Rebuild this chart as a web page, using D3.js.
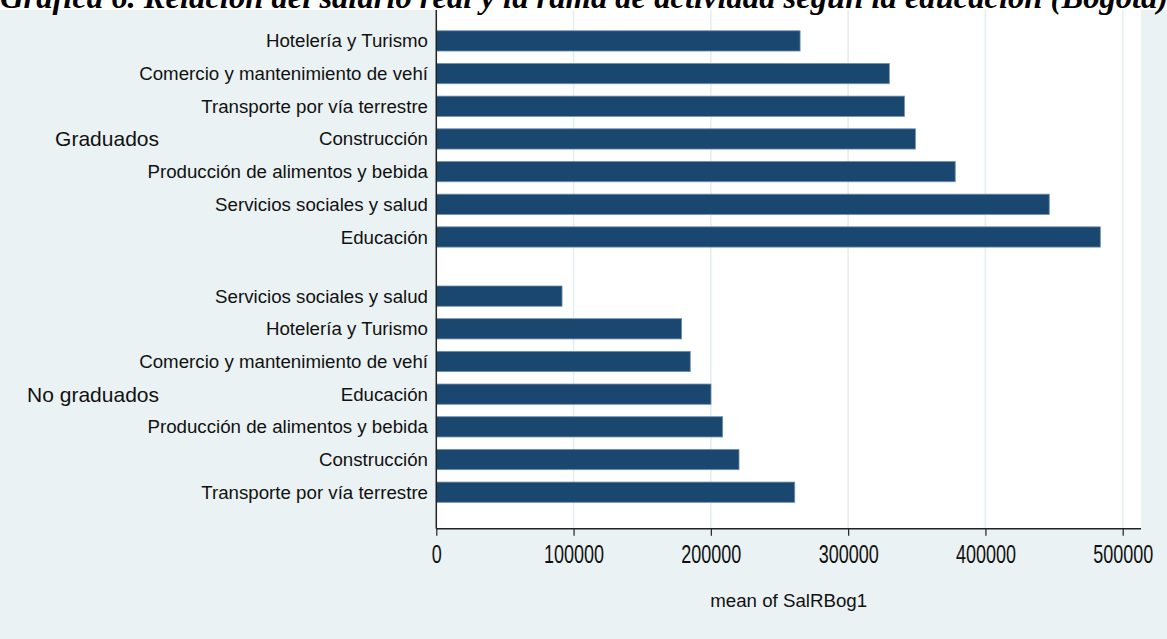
<!DOCTYPE html>
<html>
<head>
<meta charset="utf-8">
<script src="https://cdn.jsdelivr.net/npm/d3@7/dist/d3.min.js"></script>
<style>
  html, body { margin: 0; padding: 0; background: #EAF2F3; overflow: hidden; }
  svg { display: block; }
</style>
</head>
<body>
<svg id="chart" width="1167" height="639"></svg>
<script>
// ---- data ----
const chartTitle = "Gráfica 6. Relación del salario real y la rama de actividad según la educación (Bogotá)";
const groups = ["Graduados", "No graduados"];
const gradCategories = ["Hotelería y Turismo", "Comercio y mantenimiento de vehí", "Transporte por vía terrestre", "Construcción", "Producción de alimentos y bebida", "Servicios sociales y salud", "Educación"];
const gradValues = [265000, 330000, 341000, 349000, 378000, 446500, 483700];
const noGradCategories = ["Servicios sociales y salud", "Hotelería y Turismo", "Comercio y mantenimiento de vehí", "Educación", "Producción de alimentos y bebida", "Construcción", "Transporte por vía terrestre"];
const noGradValues = [91600, 178700, 185000, 200100, 208600, 220500, 261100];
const xTickValues = [0, 100000, 200000, 300000, 400000, 500000];
const xAxisTitle = "mean of SalRBog1";

// ---- layout ----
const W = 1167, H = 639;
const plotLeft = 436.3, plotRight = 1141, plotTop = 10, plotBottom = 528.7;
const groupGap = 0.81;   // extra slots between groups
const barFrac = 0.62;

const svg = d3.select("#chart");
svg.append("rect").attr("width", W).attr("height", H).attr("fill", "#EAF2F3");

const rows = [];
[[gradCategories, gradValues], [noGradCategories, noGradValues]].forEach(([cats, vals], g) => {
  cats.forEach((c, i) => rows.push({ group: groups[g], g, i, cat: c, value: vals[i], slot: g * (cats.length + groupGap) + i }));
});

const x = d3.scaleLinear().domain([0, 500000]).range([plotLeft, 1122.7]);
const lastSlot = d3.max(rows, d => d.slot);
const y = d3.scaleLinear().domain([0, lastSlot]).range([40.9, 492.2]);
const step = y(1) - y(0);
const barH = step * barFrac;

// plot region
svg.append("rect").attr("x", plotLeft).attr("y", plotTop)
  .attr("width", plotRight - plotLeft).attr("height", plotBottom - plotTop)
  .attr("fill", "#ffffff");

// gridlines
svg.append("g").selectAll("line").data(xTickValues.filter(v => v > 0)).join("line")
  .attr("x1", d => x(d)).attr("x2", d => x(d))
  .attr("y1", plotTop).attr("y2", plotBottom)
  .attr("stroke", "#E4EDEF").attr("stroke-width", 1.5);

// bars
svg.append("g").selectAll("rect").data(rows).join("rect")
  .attr("x", x(0))
  .attr("y", d => y(d.slot) - barH / 2)
  .attr("width", d => x(d.value) - x(0))
  .attr("height", barH)
  .attr("fill", "#1A476F")
  .attr("stroke", "#6F8FB0").attr("stroke-width", 0.8);

// category labels
svg.append("g").selectAll("text").data(rows).join("text")
  .attr("x", 428)
  .attr("y", d => y(d.slot))
  .attr("dy", "0.35em")
  .attr("text-anchor", "end")
  .attr("font-family", "'Liberation Sans', Arial, sans-serif")
  .attr("font-size", 18.7)
  .attr("fill", "#111")
  .text(d => d.cat);

// group labels
svg.append("g").selectAll("text").data(groups).join("text")
  .attr("x", 159)
  .attr("y", (d, g) => y(g * (gradCategories.length + groupGap) + (gradCategories.length - 1) / 2))
  .attr("dy", "0.35em")
  .attr("text-anchor", "end")
  .attr("font-family", "'Liberation Sans', Arial, sans-serif")
  .attr("font-size", 21)
  .attr("fill", "#111")
  .text(d => d);

// left axis line
svg.append("line").attr("x1", plotLeft).attr("x2", plotLeft)
  .attr("y1", plotTop).attr("y2", plotBottom)
  .attr("stroke", "#222").attr("stroke-width", 1.5);

// x axis
const xAxis = d3.axisBottom(x).tickValues(xTickValues).tickSize(7).tickPadding(0).tickFormat(d3.format("d"));
const gx = svg.append("g").attr("transform", `translate(0,${plotBottom})`).call(xAxis);
gx.select(".domain").attr("d", `M${plotLeft},0H${plotRight}`).attr("stroke", "#222").attr("stroke-width", 1.5);
gx.selectAll(".tick line").attr("stroke", "#222").attr("stroke-width", 1.2);
gx.selectAll(".tick text")
  .attr("y", 0).attr("dy", null)
  .attr("font-family", "'Liberation Sans', Arial, sans-serif")
  .attr("font-size", 18)
  .attr("fill", "#111")
  .attr("transform", "translate(0,26) scale(1,1.4)")
  .attr("dominant-baseline", "central");

// x axis title
svg.append("text")
  .attr("x", (plotLeft + plotRight) / 2)
  .attr("y", 600)
  .attr("text-anchor", "middle")
  .attr("dominant-baseline", "central")
  .attr("font-family", "'Liberation Sans', Arial, sans-serif")
  .attr("font-size", 18.7)
  .attr("fill", "#111")
  .text(xAxisTitle);

// document caption (cut at top)
svg.append("rect").attr("x", 0).attr("y", 0).attr("width", W).attr("height", plotTop).attr("fill", "#ffffff");
svg.append("text")
  .attr("x", 0).attr("y", 8)
  .attr("font-family", "'Liberation Serif', 'Times New Roman', serif")
  .attr("font-style", "italic").attr("font-weight", "bold")
  .attr("font-size", 32.6)
  .attr("fill", "#000")
  .text(chartTitle);
</script>
</body>
</html>
